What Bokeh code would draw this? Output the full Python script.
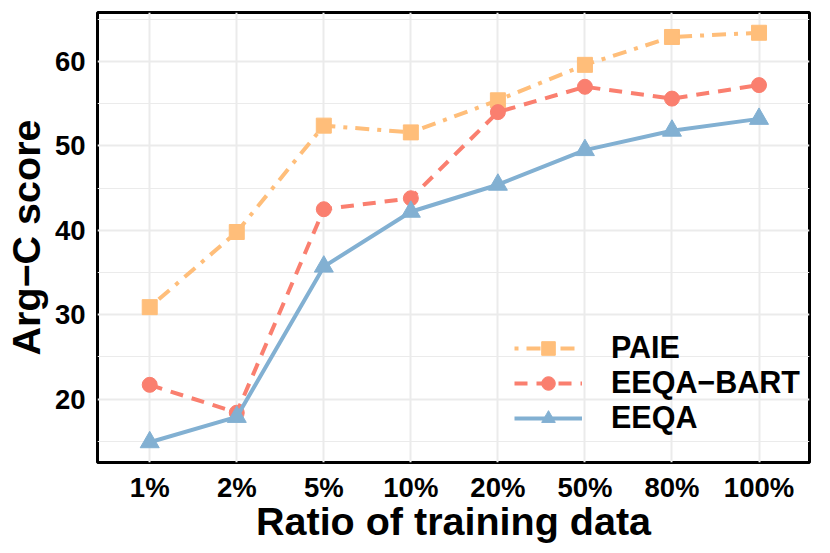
from bokeh.plotting import figure
from bokeh.models import FixedTicker, Legend, LegendItem
from bokeh.embed import file_html
from bokeh.resources import INLINE

categories = ["1%", "2%", "5%", "10%", "20%", "50%", "80%", "100%"]
paie = [30.9, 39.8, 52.4, 51.6, 55.4, 59.6, 62.9, 63.4]
eeqa_bart = [21.7, 18.4, 42.5, 43.8, 54.0, 57.0, 55.6, 57.2]
eeqa = [14.9, 17.9, 35.7, 42.2, 45.4, 49.5, 51.8, 53.2]
y_ticks = [20, 30, 40, 50, 60]
y_minor = [15, 25, 35, 45, 55, 65]

FONT = "Liberation Sans"
xs = list(range(len(categories)))

p = figure(width=814, height=545, output_backend="svg", toolbar_location=None,
           x_range=(-0.6, 7.58), y_range=(12.5, 65.8),
           min_border_left=88, min_border_right=5, min_border_top=12, min_border_bottom=83)
p.background_fill_color = "white"
p.border_fill_color = "white"
p.outline_line_color = "black"
p.outline_line_width = 3

p.xaxis.ticker = FixedTicker(ticks=xs)
p.xaxis.major_label_overrides = {i: c for i, c in enumerate(categories)}
p.yaxis.ticker = FixedTicker(ticks=y_ticks, minor_ticks=y_minor)

for ax in (p.xaxis[0], p.yaxis[0]):
    ax.axis_line_color = None
    ax.major_tick_line_color = None
    ax.minor_tick_line_color = None
    ax.major_tick_in = 0
    ax.major_tick_out = 0
    ax.minor_tick_in = 0
    ax.minor_tick_out = 0
    ax.major_label_text_font = FONT
    ax.major_label_text_font_style = "bold"
    ax.major_label_text_font_size = "27.5px"
    ax.major_label_text_color = "black"
    ax.axis_label_text_font = FONT
    ax.axis_label_text_font_style = "bold"
    ax.axis_label_text_font_size = "39.5px"
    ax.axis_label_text_color = "black"

p.xaxis.axis_label = "Ratio of training data"
p.yaxis.axis_label = "Arg\u2212C score"
p.xaxis.major_label_standoff = 9
p.xaxis.axis_label_standoff = -7
p.yaxis.major_label_standoff = 12
p.yaxis.axis_label_standoff = 4

p.xgrid.grid_line_color = "#EBEBEB"
p.xgrid.grid_line_width = 2
p.ygrid.grid_line_color = "#EBEBEB"
p.ygrid.grid_line_width = 2
p.ygrid.minor_grid_line_color = "#EBEBEB"
p.ygrid.minor_grid_line_width = 1

c_paie = "#FFBE7A"
c_bart = "#FA7F6F"
c_eeqa = "#82B0D2"

l1 = p.line(xs, paie, line_color=c_paie, line_width=4, line_dash="4 8 14 8")
m1 = p.scatter(xs, paie, marker="square", size=15, fill_color=c_paie, line_color=c_paie)
l2 = p.line(xs, eeqa_bart, line_color=c_bart, line_width=4, line_dash="13 9")
m2 = p.scatter(xs, eeqa_bart, marker="circle", size=15, fill_color=c_bart, line_color=c_bart)
l3 = p.line(xs, eeqa, line_color=c_eeqa, line_width=4)
m3 = p.scatter(xs, eeqa, marker="triangle", size=19, fill_color=c_eeqa, line_color=c_eeqa)

legend = Legend(items=[
    LegendItem(label="PAIE", renderers=[l1, m1]),
    LegendItem(label="EEQA\u2212BART", renderers=[l2, m2]),
    LegendItem(label="EEQA", renderers=[l3, m3]),
], location=(417, 27))
legend.border_line_color = None
legend.background_fill_alpha = 0
legend.padding = 0
legend.margin = 0
legend.spacing = 0
legend.glyph_width = 68
legend.glyph_height = 34
legend.label_height = 34
legend.label_standoff = 29
legend.label_text_font = FONT
legend.label_text_font_style = "bold"
legend.label_text_font_size = "30.5px"
legend.label_text_color = "black"
p.add_layout(legend, "center")

open("out.html", "w").write(file_html(p, INLINE))
